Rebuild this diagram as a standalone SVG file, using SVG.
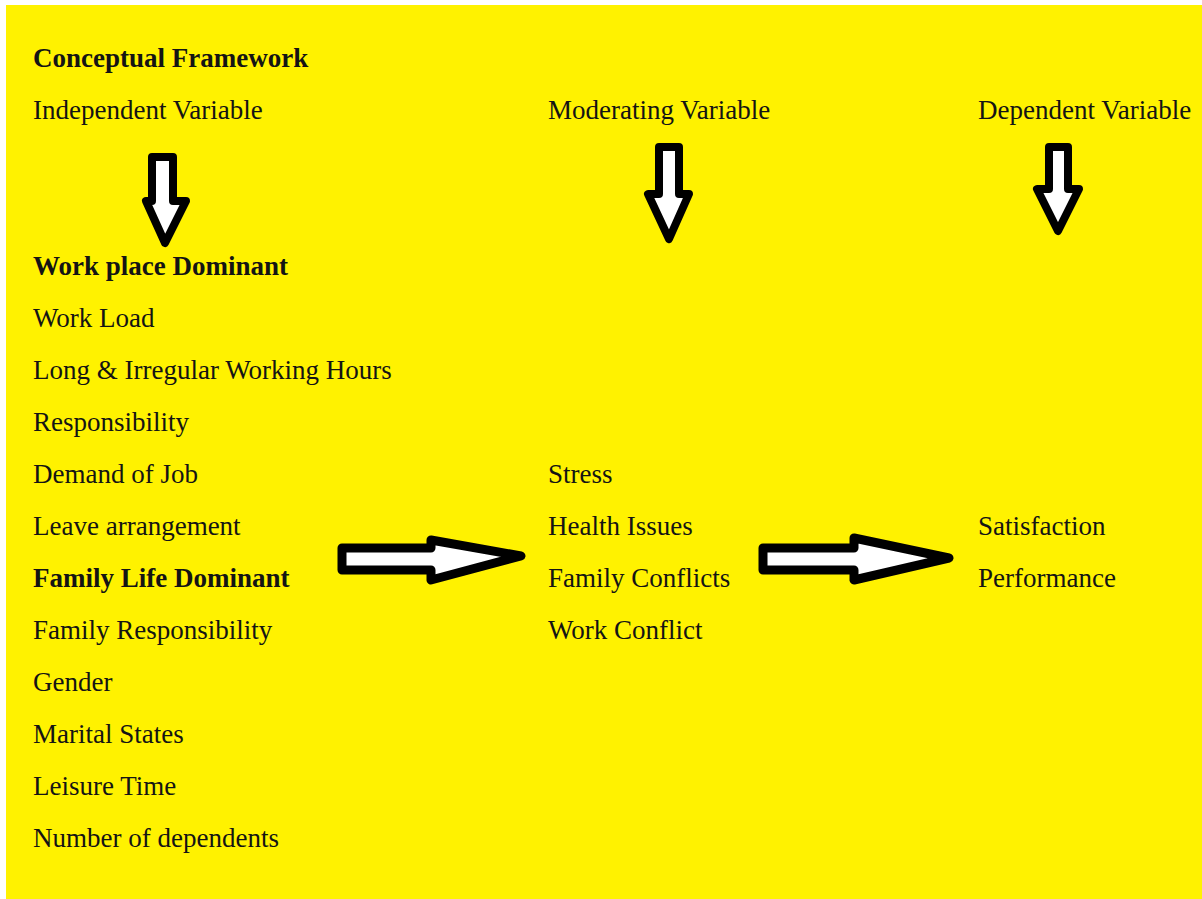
<svg xmlns="http://www.w3.org/2000/svg" width="1202" height="899" viewBox="0 0 1202 899">
<style>
text{font-family:"Liberation Serif","Times New Roman",serif;font-size:27px;fill:#141414}
.b{font-weight:bold}
.arr{fill:#ffffff;stroke:#000000;stroke-linejoin:round}
.d{stroke-width:8}
.h{stroke-width:9}
</style>
<rect x="0" y="0" width="1202" height="899" fill="#ffffff"/>
<rect x="6" y="5" width="1196" height="894" fill="#fff200"/>
<g id="col-independent">
<text x="33" y="67" class="b">Conceptual Framework</text>
<text x="33" y="119">Independent Variable</text>
<text x="33" y="275" class="b">Work place Dominant</text>
<text x="33" y="327">Work Load</text>
<text x="33" y="379">Long &amp; Irregular Working Hours</text>
<text x="33" y="431">Responsibility</text>
<text x="33" y="483">Demand of Job</text>
<text x="33" y="535">Leave arrangement</text>
<text x="33" y="587" class="b">Family Life Dominant</text>
<text x="33" y="639">Family Responsibility</text>
<text x="33" y="691">Gender</text>
<text x="33" y="743">Marital States</text>
<text x="33" y="795">Leisure Time</text>
<text x="33" y="847">Number of dependents</text>
</g>
<g id="col-moderating">
<text x="548" y="119">Moderating Variable</text>
<text x="548" y="483">Stress</text>
<text x="548" y="535">Health Issues</text>
<text x="548" y="587">Family Conflicts</text>
<text x="548" y="639">Work Conflict</text>
</g>
<g id="col-dependent">
<text x="978" y="119">Dependent Variable</text>
<text x="978" y="535">Satisfaction</text>
<text x="978" y="587">Performance</text>
</g>
<g id="connectors">
<polygon class="arr d" points="152,157 173,157 173,201 186,201 165,243 146,201 152,201"/>
<polygon class="arr d" points="659,147 679,147 679,194 689,194 669,239 648,194 659,194"/>
<polygon class="arr d" points="1049,147 1068,147 1068,189 1079,189 1058,231 1037,189 1049,189"/>
<polygon class="arr h" points="342,548 431,548 431,540 521,556 431,580 431,570 342,570"/>
<polygon class="arr h" points="763,548 854,548 854,538 949,558 854,580 854,570 763,570"/>
</g>
</svg>
